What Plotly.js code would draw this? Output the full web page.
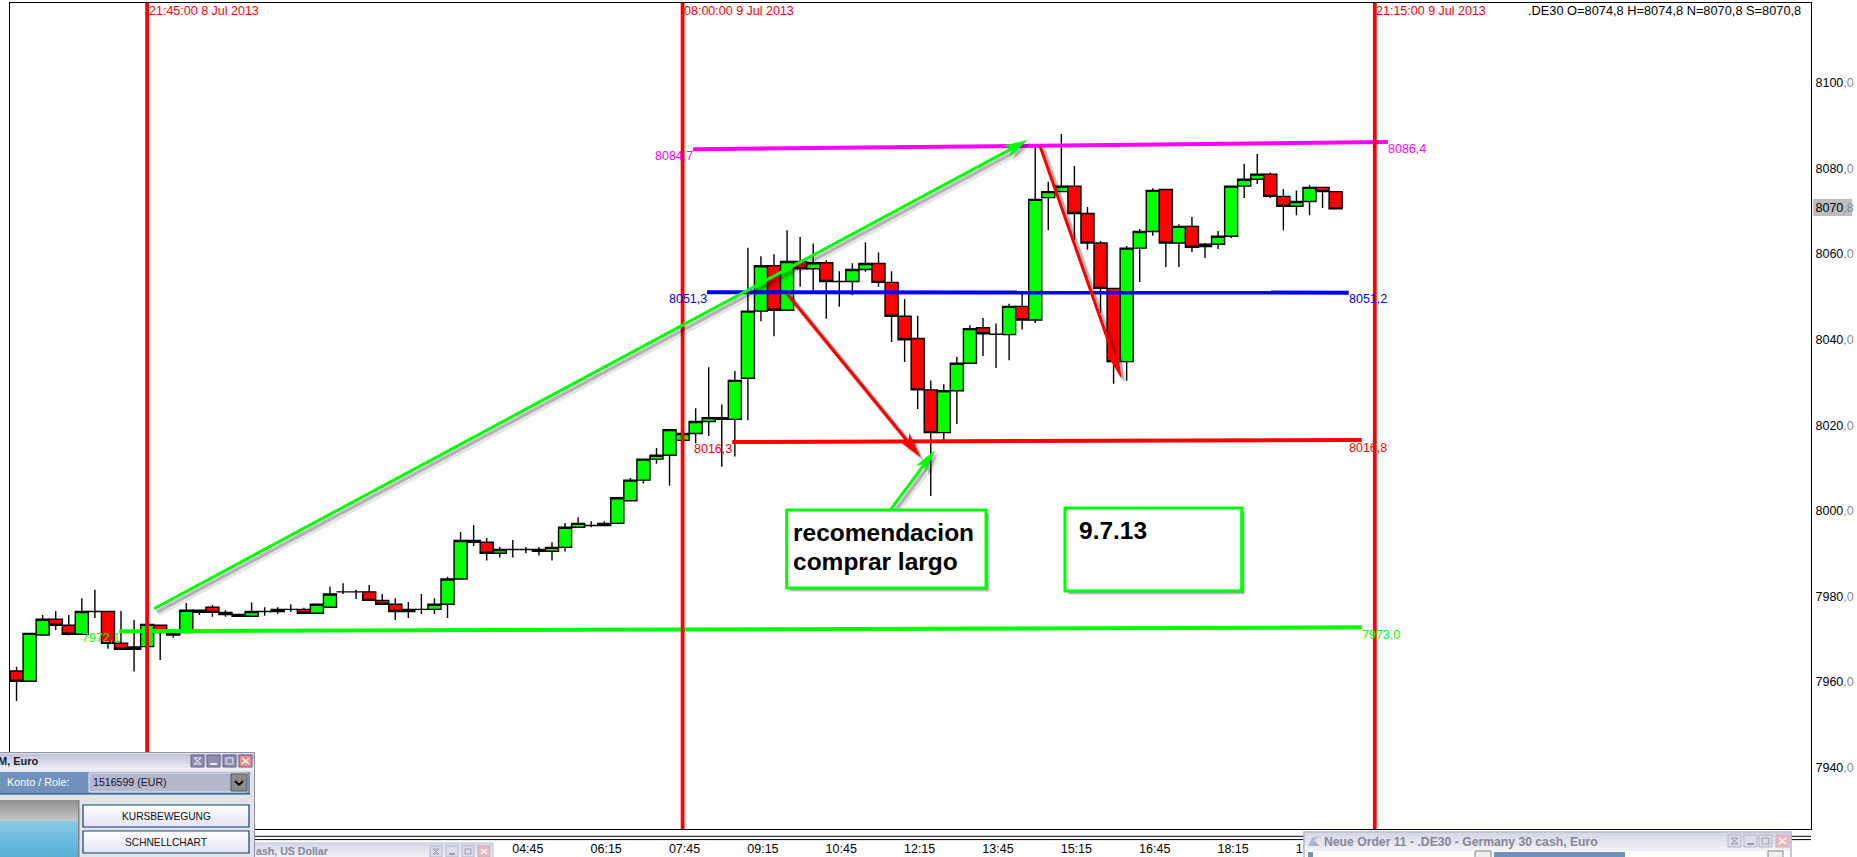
<!DOCTYPE html>
<html>
<head>
<meta charset="utf-8">
<script src="https://cdn.plot.ly/plotly-3.0.1.min.js"></script>
<style>html,body{margin:0;padding:0;background:#fff;overflow:hidden}#chart{width:1857px;height:857px}</style>
</head>
<body>
<div id="chart"></div>
<script>
// ---------- data ----------
const barsJul8 = ["19:15","19:30","19:45","20:00","20:15","20:30","20:45","21:00","21:15","21:30","21:45","22:00","22:15","22:30","22:45","23:00","23:15","23:30","23:45"];
const barsJul9 = ["00:00","00:15","00:30","00:45","01:00","01:15","01:30","01:45","02:00","02:15","02:30","02:45","03:00","03:15","03:30","03:45","04:00","04:15","04:30","04:45","05:00","05:15","05:30","05:45","06:00","06:15","06:30","06:45","07:00","07:15","07:30","07:45","08:00","08:15","08:30","08:45","09:00","09:15","09:30","09:45","10:00","10:15","10:30","10:45","11:00","11:15","11:30","11:45","12:00","12:15","12:30","12:45","13:00","13:15","13:30","13:45","14:00","14:15","14:30","14:45","15:00","15:15","15:30","15:45","16:00","16:15","16:30","16:45","17:00","17:15","17:30","17:45","18:00","18:15","18:30","18:45","19:00","19:15","19:30","19:45","20:00","20:15","20:30"];
const openVals = [
7962.8,7960.4,7971.2,7974.9,7973.5,7971.4,7976.7,7976.7,7969.3,7967.9,
7968.5,7973.5,7971.8,7971.8,7977.0,7977.7,7976.5,7976.0,7975.6,7976.7,
7976.7,7977.2,7977.2,7976.3,7977.7,7981.3,7981.3,7981.3,7979.3,7978.4,
7976.7,7977.2,7977.2,7978.4,7984.3,7993.3,7992.9,7990.3,7991.2,7991.2,
7991.2,7990.8,7991.7,7996.4,7996.8,7996.8,7997.3,8002.6,8007.4,8012.3,
8013.2,8016.7,8018.3,8021.1,8021.6,8021.6,8031.2,8046.9,8057.5,8047.1,
8058.5,8056.8,8058.2,8053.8,8053.8,8056.6,8058.0,8053.6,8045.7,8040.5,
8028.5,8018.5,8028.3,8034.7,8043.0,8041.5,8041.4,8048.0,8044.8,8073.4,
8074.8,8076.1,8069.7,8062.8,8052.2,8035.1,8061.6,8065.5,8075.3,8062.8,
8066.7,8062.0,8062.5,8064.4,8076.1,8077.7,8078.9,8073.7,8071.4,8072.5,
8075.8,8074.8];
const highVals = [
7963.8,7971.6,7975.9,7976.8,7975.9,7979.8,7981.8,7976.7,7976.8,7974.7,
7973.7,7973.5,7971.8,7978.7,7977.0,7978.2,7977.0,7976.0,7978.8,7977.7,
7977.7,7978.4,7977.6,7978.4,7982.5,7983.3,7981.8,7982.9,7980.8,7979.8,
7978.9,7980.8,7979.8,7984.8,7995.3,7996.9,7993.9,7991.8,7993.4,7991.8,
7991.8,7992.9,7997.4,7998.7,7997.8,7997.8,8003.3,8007.9,8012.3,8014.9,
8019.2,8018.3,8024.2,8033.8,8025.1,8032.9,8061.7,8059.7,8060.2,8065.8,
8064.2,8062.7,8058.8,8056.2,8058.1,8063.0,8060.6,8056.2,8049.7,8045.8,
8030.7,8029.8,8036.2,8043.6,8045.3,8044.0,8048.6,8051.1,8085.3,8077.1,
8088.3,8080.8,8071.2,8063.3,8052.2,8062.1,8066.1,8075.6,8075.3,8067.2,
8068.9,8062.8,8065.6,8076.1,8081.3,8083.6,8079.3,8075.4,8075.1,8076.3,
8075.8,8074.8];
const lowVals = [
7955.8,7960.4,7971.2,7972.4,7971.1,7971.4,7975.2,7968.0,7967.9,7962.7,
7968.5,7965.4,7970.6,7971.8,7975.9,7975.5,7975.5,7975.6,7975.6,7975.7,
7976.2,7976.6,7976.3,7976.3,7977.7,7980.8,7979.6,7979.3,7978.4,7974.7,
7975.2,7976.1,7976.1,7975.2,7984.3,7992.0,7988.6,7989.3,7989.3,7990.3,
7989.8,7988.6,7990.7,7996.4,7996.4,7996.8,7997.3,8002.6,8006.6,8011.2,
8006.1,8016.7,8016.0,8017.7,8010.5,8012.9,8021.4,8044.5,8041.0,8047.1,
8052.6,8051.8,8045.1,8047.9,8050.6,8056.1,8052.6,8039.7,8035.0,8024.0,
8003.7,8016.7,8020.5,8034.7,8036.4,8033.6,8035.4,8042.6,8044.1,8065.8,
8074.8,8063.5,8061.2,8046.5,8029.9,8030.6,8053.7,8064.5,8057.2,8057.2,
8060.7,8059.3,8061.4,8064.0,8073.3,8076.6,8073.3,8065.8,8069.3,8069.3,
8071.0,8070.8];
const closeVals = [
7960.4,7971.6,7974.9,7973.5,7971.4,7976.7,7976.7,7969.3,7967.9,7968.4,
7973.7,7971.8,7971.2,7977.0,7976.5,7976.5,7976.0,7975.6,7976.7,7976.7,
7977.2,7977.2,7976.3,7978.4,7980.8,7981.3,7981.3,7979.3,7978.4,7976.7,
7977.2,7977.2,7978.4,7984.3,7993.3,7992.9,7990.3,7991.2,7991.2,7991.2,
7990.8,7991.7,7996.4,7997.3,7996.8,7997.3,8003.3,8007.4,8012.3,8013.2,
8019.2,8018.3,8021.1,8022.0,8022.0,8030.7,8046.9,8057.5,8047.1,8058.5,
8056.8,8058.2,8053.8,8053.8,8056.6,8058.0,8053.6,8045.7,8040.2,8028.5,
8018.5,8028.3,8034.7,8042.8,8041.6,8041.5,8048.0,8044.8,8073.0,8074.8,
8076.1,8069.7,8062.8,8052.2,8035.1,8061.6,8065.5,8075.1,8062.8,8066.7,
8061.8,8062.5,8064.4,8076.1,8077.7,8078.9,8073.7,8071.4,8072.5,8075.8,
8074.8,8070.8];

const xTickTimes = ["2013-07-08 19:45","2013-07-08 21:15","2013-07-08 22:45","2013-07-09 00:15","2013-07-09 01:45","2013-07-09 03:15","2013-07-09 04:45","2013-07-09 06:15","2013-07-09 07:45","2013-07-09 09:15","2013-07-09 10:45","2013-07-09 12:15","2013-07-09 13:45","2013-07-09 15:15","2013-07-09 16:45","2013-07-09 18:15","2013-07-09 19:45"];
const xTickLabels = ["19:45","21:15","22:45","00:15","01:45","03:15","04:45","06:15","07:45","09:15","10:45","12:15","13:45","15:15","16:45","18:15","19:45"];
const yTickVals = [8100,8080,8070.8,8060,8040,8020,8000,7980,7960,7940];
const yTickWhole = ["8100","8080","8070","8060","8040","8020","8000","7980","7960","7940"];
const yTickDec = [",0",",0",",8",",0",",0",",0",",0",",0",",0",",0"];

const markerTimes = ["2013-07-08 21:45","2013-07-09 08:00","2013-07-09 21:15"];
const markerLabels = ["21:45:00 8 Jul 2013","08:00:00 9 Jul 2013","21:15:00 9 Jul 2013"];

const magentaX = ["2013-07-09 08:12","2013-07-09 21:30"], magentaY = [8084.7,8086.4];
const blueX = ["2013-07-09 08:28","2013-07-09 20:45"], blueY = [8051.3,8051.2];
const redX = ["2013-07-09 08:57","2013-07-09 21:00"], redY = [8016.3,8016.8];
const limeX = ["2013-07-08 21:13","2013-07-09 21:00"], limeY = [7972.1,7973.0];

// ---------- pixel helpers for overlays ----------
const L=10,R=1811,T=3,B=829;
const px=x=>(x-L)/(R-L), py=y=>(B-y)/(B-T);
const shapes=[], notes=[];
function rect(x0,y0,x1,y1,fill,line,lw){shapes.push({type:'rect',xref:'paper',yref:'paper',x0:px(x0),x1:px(x1),y0:py(y0),y1:py(y1),fillcolor:fill||'rgba(0,0,0,0)',line:{color:line||'rgba(0,0,0,0)',width:line?(lw||1):0},layer:'above'});}
function seg(x0,y0,x1,y1,color,w){shapes.push({type:'line',xref:'paper',yref:'paper',x0:px(x0),x1:px(x1),y0:py(y0),y1:py(y1),line:{color:color,width:w},layer:'above'});}
function poly(pts,fill){shapes.push({type:'path',xref:'paper',yref:'paper',path:'M'+pts.map(p=>px(p[0])+','+py(p[1])).join('L')+'Z',fillcolor:fill,line:{width:0},layer:'above'});}
function mix(a,b,t){const h=c=>[1,3,5].map(i=>parseInt(c.substr(i,2),16));const A=h(a),B2=h(b);return 'rgb('+A.map((v,i)=>Math.round(v+(B2[i]-v)*t)).join(',')+')';}
function grad(x0,y0,x1,y1,c0,c1){const n=Math.max(1,Math.round(y1-y0));for(let i=0;i<n;i++){rect(x0,y0+(y1-y0)*i/n,x1,y0+(y1-y0)*(i+1)/n+0.5,mix(c0,c1,i/n));}}
function txt(x,y,t,o){o=o||{};notes.push({xref:'paper',yref:'paper',x:px(x),y:py(y),text:t,showarrow:false,xanchor:o.a||'left',yanchor:'middle',align:o.a||'left',borderpad:0,font:{family:'Liberation Sans, Arial, sans-serif',size:o.s||12.5,color:o.c||'#000'}});}
function arrowBody(x0,y0,x1,y1,w,hl,hw,dx,dy,fill){
  const d=Math.hypot(x1-x0,y1-y0),ux=(x1-x0)/d,uy=(y1-y0)/d,nx=-uy,ny=ux;
  const P=(a,b)=>[x0+dx+ux*a+nx*b,y0+dy+uy*a+ny*b];
  poly([P(0,-w/2),P(d-hl*0.8,-w/2),P(d-hl,-hw),P(d,0),P(d-hl,hw),P(d-hl*0.8,w/2),P(0,w/2)],fill);
}
function arrow(x0,y0,x1,y1,color,w,hl,hw){
  arrowBody(x0,y0,x1,y1,w+3,hl,hw+1,4,5,'rgba(0,0,0,0.10)');
  arrowBody(x0,y0,x1,y1,w+1,hl,hw,3,3,'rgba(0,0,0,0.22)');
  arrowBody(x0,y0,x1,y1,w,hl,hw,0,0,color);
}
function textBox(x0,y0,x1,y1){
  rect(x0+4,y0+4,x1+4,y1+4,'rgba(0,0,0,0.12)');
  rect(x0+3,y0+3,x1+2.5,y1+2.5,'rgba(0,0,0,0.3)');
  rect(x0,y0,x1,y1,'#ffffff','#00ff00',3);
}
function winButtons(xs,y0,y1,bg,bd,closeBg,icon){
  xs.forEach((x,i)=>{
    const w=y1-y0+1, last=i===xs.length-1;
    rect(x,y0,x+w,y1,last?closeBg:bg,bd,1);
    if(last){seg(x+3,y0+3,x+w-3,y1-3,'#fff',1.6);seg(x+w-3,y0+3,x+3,y1-3,'#fff',1.6);}
    else if(i===0){seg(x+3,y0+3,x+w-3,y0+3,icon,1);seg(x+3,y1-3,x+w-3,y1-3,icon,1);seg(x+3,y0+3,x+w-3,y1-3,icon,1);seg(x+w-3,y0+3,x+3,y1-3,icon,1);}
    else if(i===1){seg(x+3,y1-3,x+w-3,y1-3,icon,2);}
    else {rect(x+3,y0+3,x+w-3,y1-3,null,icon,1);}
  });
}

// red time markers (data x, full plot height)
markerTimes.forEach(t=>shapes.push({type:'line',xref:'x',yref:'paper',x0:t,x1:t,y0:0,y1:1,line:{color:'#ff0000',width:3.8},layer:'above'}));

// arrows
arrow(154,608.7,1027.7,140,'#00ff00',3,24,6.5);
arrow(787.3,294,920.7,457.3,'#ff0000',3,26,6.5);
arrow(1040,146,1121.7,379.3,'#ff0000',3,30,6);
arrow(888.3,512.7,935,450,'#00ff00',3,24,6);

// text boxes
textBox(786.7,510,986,588);
textBox(1065,508,1241.7,591);
txt(792,532,'<b>recomendacion</b>',{s:24.5});
txt(792,561,'<b>comprar largo</b>',{s:24.5});
txt(1078,530,'<b>9.7.13</b>',{s:24.5});

// chart texts
markerLabels.forEach((t,i)=>txt([148,683,1375][i],11,t,{c:'#ff0000'}));
txt(1527,11,'.DE30 O=8074,8 H=8074,8 N=8070,8 S=8070,8',{c:'#000',s:12.8});
txt(694,156,'8084,7',{c:'#ff00ff',a:'right'});
txt(708,299,'8051,3',{c:'#0000ff',a:'right'});
txt(733,449,'8016,3',{c:'#ff0000',a:'right'});
txt(121,638,'7972,1',{c:'#00ff00',a:'right'});
txt(1387,149,'8086,4',{c:'#ff00ff'});
txt(1348,299,'8051,2',{c:'#0000ff'});
txt(1348,448,'8016,8',{c:'#ff0000'});
txt(1361,635,'7973,0',{c:'#00ff00'});

// double rule under the plot
seg(0,836.3,R,836.3,'#000',1);
seg(0,839.6,R,839.6,'#000',1);

// back window "ash, US Dollar"
rect(254,843,493,858,'#f0f0f5','#b4b6cc',1);
grad(255,844,492,857,'#d8d9e6','#f2f2f7');
txt(255,851,'<b>ash, US Dollar</b>',{c:'#85869a',s:10.6});
winButtons([430,446,462,478],846,857,'#dcdde8','#b4b6cc','#f5b5b5','#9a9bb0');

// front left window
rect(-1,752.5,254.5,858,'#e3e3e3','#8f90b0',1);
grad(0,754,254,770,'#c2c3d8','#f1f1f7');
txt(-3,761,'<b>M, Euro</b>',{c:'#1b1b33',s:11});
winButtons([191,207,223,239],755,767,'#8c8fb2','#60628a','#f08a8a','#e8e8f2');
rect(0,772,250,794,'#7191bd');
seg(0,794,250,794,'#0f4a86',1);
txt(6,782,'Konto / Role:',{c:'#ffffff',s:10.8});
rect(89,773,247,792,'#b5b8cc','#e8e8ee',1);
txt(92,782,'1516599 (EUR)',{c:'#1b1030',s:10.6});
rect(231,774,247,791,'#8a8a8a','#555',1);
seg(235,781,239,785,'#000',1.8);seg(239,785,243,781,'#000',1.8);
rect(0,800,79,858,'#7d7d7d');
grad(0,800,78,821,'#8f8f8f','#c9c9c9');
grad(0,821,78,857,'#85c9e6','#56aed6');
seg(79,800,79,857,'#808080',1);
[[805,827,'KURSBEWEGUNG'],[831,853,'SCHNELLCHART']].forEach(b=>{
  grad(83,b[0],249,b[1],'#ffffff','#e2e2f2');
  rect(83,b[0],249,b[1],null,'#0a3f7c',1.2);
  txt(166,(b[0]+b[1])/2,b[2],{a:'center',s:10.2,c:'#111'});
});

// front right window
rect(1304,832,1791,858,'#ecedf3','#b4b6cc',1.5);
grad(1305,833,1790,850,'#d6d7e4','#f3f3f8');
txt(1323,841.5,'<b>Neue Order 11 - .DE30 - Germany 30 cash, Euro</b>',{c:'#85869a',s:12.2});
poly([[1308,846],[1312,838],[1319,836],[1314,840],[1320,846]],'#a9b6cc');
winButtons([1728,1744,1759,1776],835,847,'#dcdde8','#b4b6cc','#f5b5b5','#9a9bb0');
rect(1305,851,1790,858,'#ffffff');
rect(1308,852,1313,858,'#7191bd');
rect(1494,852,1625,858,'#7191bd');
rect(1475,851,1491,858,'#eeeeee','#888',1);
rect(1768,851,1783,858,'#eeeeee','#888',1);

// ---------- traces ----------
const times = barsJul8.map(t=>"2013-07-08 "+t).concat(barsJul9.map(t=>"2013-07-09 "+t));
const lineTrace=(x,y,c)=>({type:'scatter',mode:'lines',x:x,y:y,line:{color:c,width:4},hoverinfo:'skip'});
const traces=[
 {type:'candlestick',x:times,open:openVals,high:highVals,low:lowVals,close:closeVals,
  increasing:{line:{color:'#000',width:1.4},fillcolor:'#00ff00'},
  decreasing:{line:{color:'#000',width:1.4},fillcolor:'#ff0000'},
  whiskerwidth:0,hoverinfo:'skip'},
 lineTrace(limeX,limeY,'#00ff00'),
 lineTrace(redX,redY,'#ff0000'),
 lineTrace(blueX,blueY,'#0000ff'),
 lineTrace(magentaX,magentaY,'#ff00ff')
];

// price highlight sits under the tick text
const priceTag={type:'rect',xref:'paper',yref:'paper',x0:px(1813),x1:px(1852),y0:py(199),y1:py(216),fillcolor:'#bdbdbd',line:{width:0},layer:'below'};

const layout={
 width:1857,height:857,autosize:false,showlegend:false,
 paper_bgcolor:'#ffffff',plot_bgcolor:'#ffffff',
 margin:{l:L,r:1857-R,t:T,b:857-B,pad:0},
 boxgap:0,boxgroupgap:0,dragmode:false,hovermode:false,
 xaxis:{type:'date',range:['2013-07-08 19:07:30','2013-07-10 05:36:00'],
   rangeslider:{visible:false},showgrid:false,zeroline:false,
   showline:true,mirror:true,linecolor:'#000',linewidth:1,
   tickmode:'array',tickvals:xTickTimes,ticktext:xTickLabels,ticks:'',
   ticklabelstandoff:8,ticklabelshift:15,
   tickfont:{family:'Liberation Sans, Arial, sans-serif',size:12.5,color:'#000'}},
 yaxis:{side:'right',range:[7925.89,8118.88],showgrid:false,zeroline:false,
   showline:true,mirror:true,linecolor:'#000',linewidth:1,
   tickmode:'array',tickvals:yTickVals,
   ticktext:yTickWhole.map((w,i)=>w+'<span style="fill:#8a8a8a">'+yTickDec[i]+'</span>'),
   ticks:'',ticklabelstandoff:1,ticklabelshift:-1,
   tickfont:{family:'Liberation Sans, Arial, sans-serif',size:12.5,color:'#000'}},
 shapes:[priceTag].concat(shapes),
 annotations:notes
};
Plotly.newPlot('chart',traces,layout,{displayModeBar:false,staticPlot:true});
</script>
</body>
</html>
